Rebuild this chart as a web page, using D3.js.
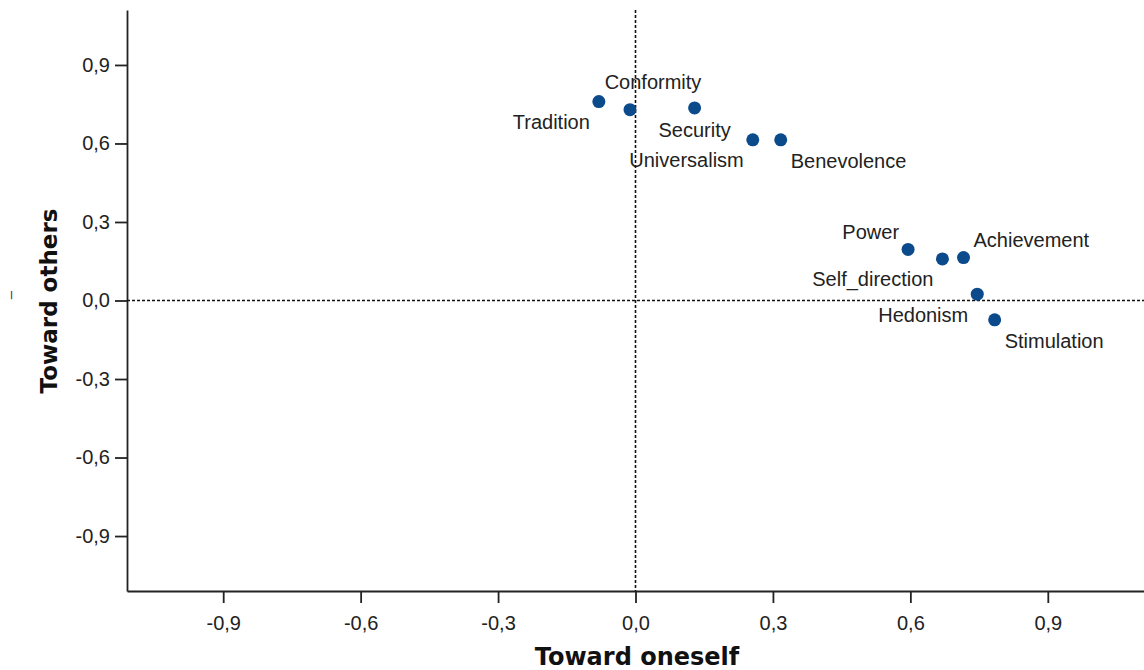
<!DOCTYPE html>
<html>
<head>
<meta charset="utf-8">
<script src="https://cdn.jsdelivr.net/npm/d3@7"></script>
<style>
  html, body { margin: 0; padding: 0; background: #fff; }
  svg { display: block; }
  text { font-family: "Liberation Sans", Arial, sans-serif; }
</style>
</head>
<body>
<svg id="chart" width="1144" height="670"></svg>
<script>
// ---- data ----
const categories = ["Tradition", "Conformity", "Security", "Universalism", "Benevolence",
                    "Power", "Self_direction", "Achievement", "Hedonism", "Stimulation"];
const towardOneself = [-0.080, -0.012, 0.129, 0.256, 0.317, 0.595, 0.670, 0.716, 0.746, 0.784];
const towardOthers  = [0.760, 0.729, 0.736, 0.614, 0.614, 0.195, 0.159, 0.164, 0.024, -0.074];
const tickValues = [-0.9, -0.6, -0.3, 0.0, 0.3, 0.6, 0.9];
const tickLabels = ["-0,9", "-0,6", "-0,3", "0,0", "0,3", "0,6", "0,9"];
const xTitle = "Toward oneself";
const yTitle = "Toward others";

// ---- layout (label placement per point) ----
const labelPlacement = ["bl", "t", "b", "bl", "br", "tl", "bl", "tr", "bl", "br"];

(function () {
const svg = d3.select("#chart");
const mLeft = 127, mRight = 1144, mTop = 10, mBottom = 591;
const x = d3.scaleLinear().domain([-1.11, 1.11]).range([mLeft, mRight]);
const y = d3.scaleLinear().domain([-1.11, 1.11]).range([mBottom, mTop]);

const axisColor = "#222";
const fmt = v => tickLabels[tickValues.indexOf(v)];

// x axis
const gx = svg.append("g").attr("transform", `translate(0,${mBottom})`)
  .call(d3.axisBottom(x).tickValues(tickValues).tickFormat(fmt).tickSize(12).tickSizeOuter(0).tickPadding(13));
// y axis
const gy = svg.append("g").attr("transform", `translate(${mLeft},0)`)
  .call(d3.axisLeft(y).tickValues(tickValues).tickFormat(fmt).tickSize(12).tickSizeOuter(0).tickPadding(5));

[gx, gy].forEach(g => {
  g.select(".domain").attr("stroke", axisColor).attr("stroke-width", 1.8);
  g.selectAll(".tick line").attr("stroke", axisColor).attr("stroke-width", 1.8);
  g.selectAll(".tick text").attr("fill", "#222").style("font-size", "20px")
    .style("font-family", "'Liberation Sans', Arial, sans-serif");
});

// reference lines
svg.append("line")
  .attr("x1", x(0)).attr("x2", x(0)).attr("y1", mTop).attr("y2", mBottom)
  .attr("stroke", "#111").attr("stroke-width", 1.6).attr("stroke-dasharray", "3,2");
svg.append("line")
  .attr("x1", mLeft).attr("x2", mRight).attr("y1", y(0)).attr("y2", y(0))
  .attr("stroke", "#111").attr("stroke-width", 1.6).attr("stroke-dasharray", "3,2");

// points
const pts = categories.map((c, i) => ({ name: c, x: towardOneself[i], y: towardOthers[i], pos: labelPlacement[i] }));
svg.append("g").selectAll("circle").data(pts).join("circle")
  .attr("cx", d => x(d.x)).attr("cy", d => y(d.y)).attr("r", 6.5)
  .attr("fill", "#0b4a8b");

// labels
const off = {
  tl: { dx: -9, dy: -17.5, anchor: "end" },
  tr: { dx: 10, dy: -18, anchor: "start" },
  bl: { dx: -9, dy: 20.5, anchor: "end" },
  br: { dx: 10, dy: 21, anchor: "start" },
  t:  { dx: 23, dy: -27.5, anchor: "middle" },
  b:  { dx: 0, dy: 22.5, anchor: "middle" }
};
svg.append("g").selectAll("text").data(pts).join("text")
  .attr("x", d => x(d.x) + off[d.pos].dx)
  .attr("y", d => y(d.y) + off[d.pos].dy)
  .attr("dy", "0.35em")
  .attr("text-anchor", d => off[d.pos].anchor)
  .style("font-size", "20px").attr("fill", "#222")
  .text(d => d.name);

// axis titles
svg.append("text")
  .attr("x", 637).attr("y", 665)
  .attr("text-anchor", "middle")
  .style("font-family", "'DejaVu Sans', Verdana, sans-serif")
  .style("font-weight", "bold").style("font-size", "24px").attr("fill", "#111")
  .text(xTitle);
svg.append("text")
  .attr("transform", "translate(49,301) rotate(-90)")
  .attr("dy", "0.36em")
  .attr("text-anchor", "middle")
  .style("font-family", "'DejaVu Sans', Verdana, sans-serif")
  .style("font-weight", "bold").style("font-size", "23px").attr("fill", "#111")
  .text(yTitle);

// stray mark left of y title
svg.append("text")
  .attr("transform", "translate(10,295) rotate(-90)")
  .attr("dy", "0.3em").attr("text-anchor", "middle")
  .style("font-size", "15px").attr("fill", "#333")
  .text("–");
})();
</script>
</body>
</html>
